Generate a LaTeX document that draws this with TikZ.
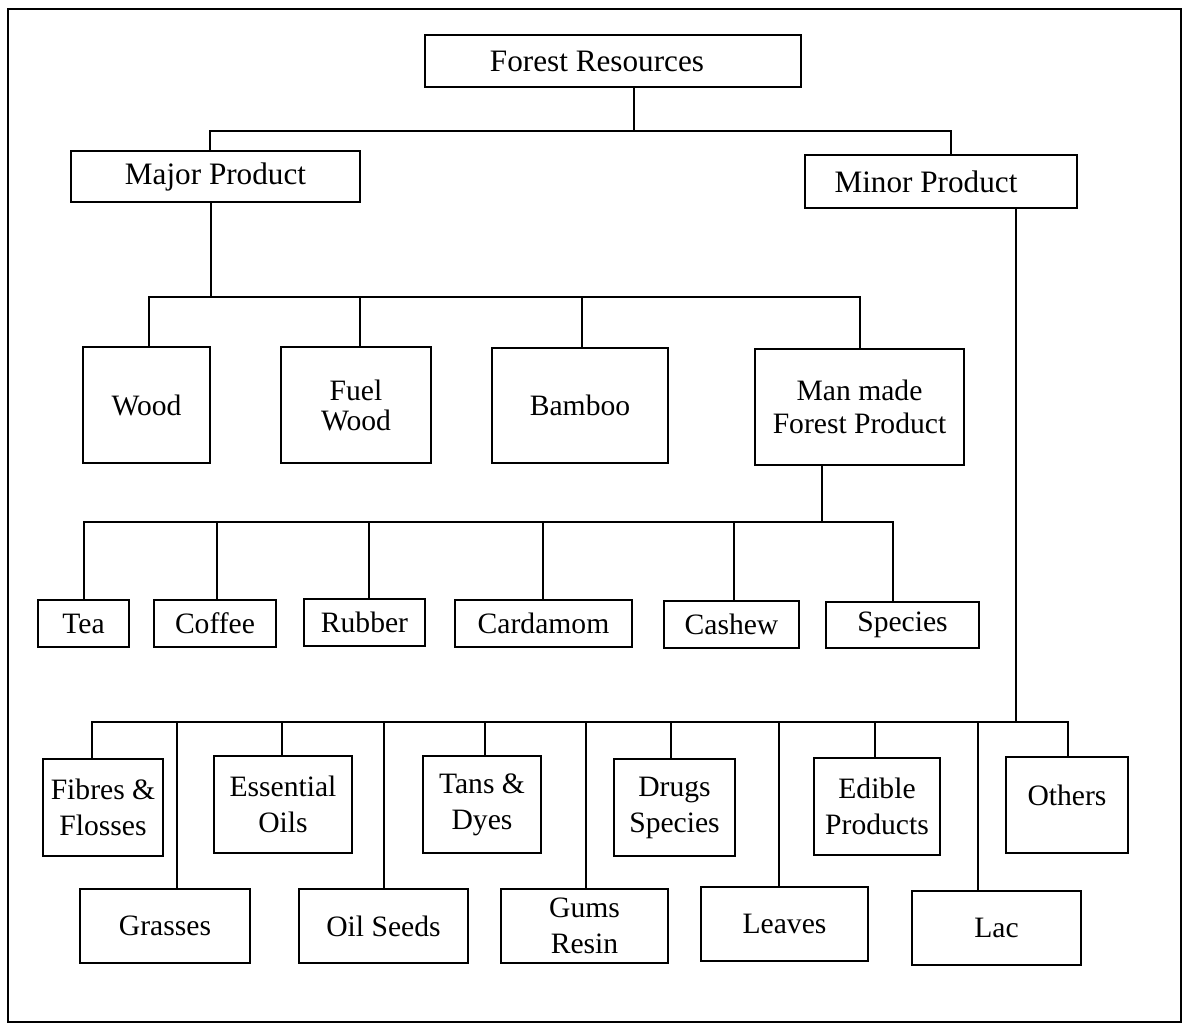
\documentclass[tikz,border=0pt]{standalone}
\usepackage{fontspec}
\setmainfont{Liberation Serif}
% box given by its corners (x1,y1)-(x2,y2) in picture units
\newcommand\boxat[7][]{%
  \node[box,#1,minimum width={(#5-#3)*0.5pt},minimum height={(#6-#4)*0.5pt}]
    (#2) at ({(#3+#5)/2},{(#4+#6)/2}) {#7};}
\begin{document}
\begin{tikzpicture}[x=0.5pt,y=-0.5pt,
  box/.style={draw, line width=1.15pt, inner sep=0pt, align=center,
    font=\fontsize{14.8}{18}\selectfont},
  head/.style={font=\fontsize{15.6}{18}\selectfont},
  wire/.style={line width=1.05pt, line cap=rect}]
\useasboundingbox (0,0) rectangle (1187,1025);
\draw[line width=1.15pt] (8,9) rectangle (1181,1022);

% top levels
\boxat[head]{fr}{425}{35}{801}{87}{\hspace*{-16pt}Forest Resources}
\boxat[head]{maj}{71}{151}{360}{202}{Major Product}
\boxat[head]{min}{805}{155}{1077}{208}{\hspace*{-15pt}Minor Product}

% major products
\boxat{wood}{83}{347}{210}{463}{Wood}
\boxat[font=\fontsize{14.8}{15}\selectfont]{fuel}{281}{347}{431}{463}{Fuel\\Wood}
\boxat{bamboo}{492}{348}{668}{463}{Bamboo}
\boxat[font=\fontsize{14.8}{16.5}\selectfont]{man}{755}{349}{964}{465}{Man made\\Forest Product}

% man made forest products
\boxat{tea}{38}{600}{129}{647}{Tea}
\boxat{coffee}{154}{600}{276}{647}{Coffee}
\boxat{rubber}{304}{599}{425}{646}{Rubber}
\boxat{cardamom}{455}{600}{632}{647}{Cardamom}
\boxat{cashew}{664}{601}{799}{648}{Cashew}
\boxat{species}{826}{602}{979}{648}{Species}

% minor products
\boxat{fibres}{43}{759}{163}{856}{Fibres \&\\Flosses}
\boxat{grasses}{80}{889}{250}{963}{Grasses}
\boxat{essential}{214}{756}{352}{853}{Essential\\Oils}
\boxat{oilseeds}{299}{889}{468}{963}{Oil Seeds}
\boxat{tans}{423}{756}{541}{853}{Tans \&\\Dyes}
\boxat{gums}{501}{889}{668}{963}{Gums\\Resin}
\boxat{drugs}{614}{759}{735}{856}{Drugs\\Species}
\boxat{leaves}{701}{887}{868}{961}{Leaves}
\boxat{edible}{814}{758}{940}{855}{Edible\\Products}
\boxat{lac}{912}{891}{1081}{965}{Lac}
\boxat{others}{1006}{757}{1128}{853}{\raisebox{5pt}[\height][\depth]{Others}}

% level 1 connectors
\coordinate (b1) at (634,131);
\coordinate (tmaj) at (210,131);
\coordinate (tmin) at (951,131);
\draw[wire] (fr.south -| b1) -- (b1);
\draw[wire] (maj.north -| tmaj) -- (tmaj) -- (tmin) -- (min.north -| tmin);

% level 2 connectors
\coordinate (b2) at (211,297);
\draw[wire] (maj.south -| b2) -- (b2);
\foreach \n/\x in {wood/149,fuel/360,bamboo/582,man/860}{
  \coordinate (t\n) at (\x,297);
  \draw[wire] (t\n) -- (\n.north -| t\n);
}
\draw[wire] (twood) -- (tman);

% level 3 connectors
\coordinate (b3) at (822,522);
\draw[wire] (man.south -| b3) -- (b3);
\foreach \n/\x in {tea/84,coffee/217,rubber/369,cardamom/543,cashew/734,species/893}{
  \coordinate (t\n) at (\x,522);
  \draw[wire] (t\n) -- (\n.north -| t\n);
}
\draw[wire] (ttea) -- (tspecies);

% level 4 connectors
\coordinate (b4) at (1016,722);
\draw[wire] (min.south -| b4) -- (b4);
\foreach \n/\x in {fibres/92,grasses/177,essential/282,oilseeds/384,tans/485,
                   gums/586,drugs/671,leaves/779,edible/875,lac/978,others/1068}{
  \coordinate (t\n) at (\x,722);
  \draw[wire] (t\n) -- (\n.north -| t\n);
}
\draw[wire] (tfibres) -- (tothers);
\end{tikzpicture}
\end{document}
